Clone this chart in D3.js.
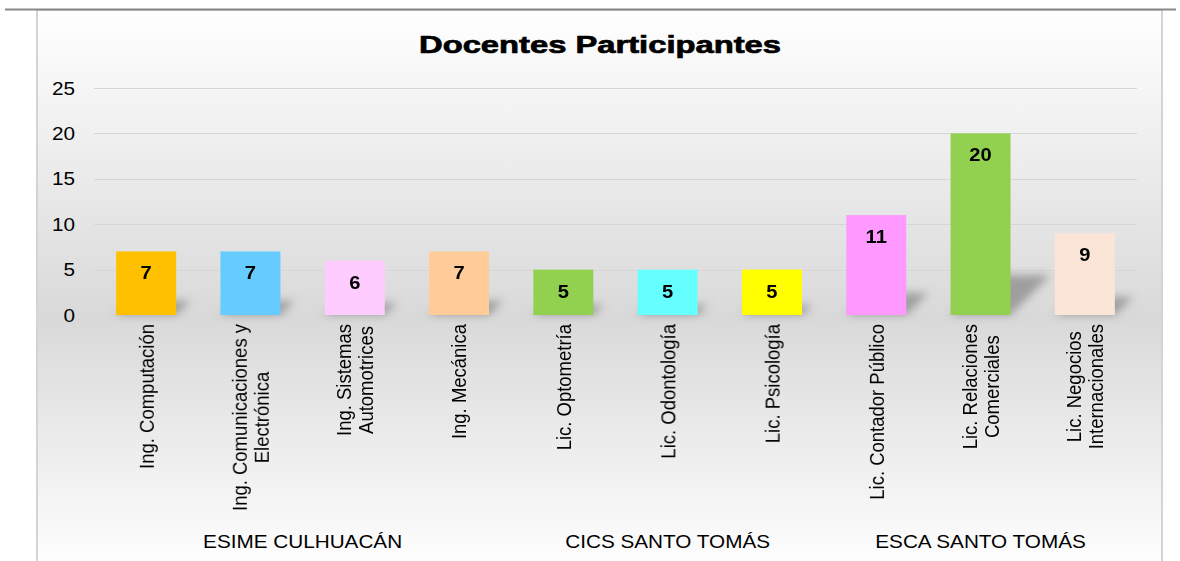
<!DOCTYPE html>
<html>
<head>
<meta charset="utf-8">
<script src="https://cdn.jsdelivr.net/npm/d3@7"></script>
<style>
  body { margin: 0; background: #fff; }
  text { font-family: "Liberation Sans", Arial, sans-serif; fill: #000; }
</style>
</head>
<body>
<svg id="chart" width="1180" height="561"></svg>
<script>
// datos del gráfico
const carreras = ["Ing. Computación", "Ing. Comunicaciones y\nElectrónica", "Ing. Sistemas\nAutomotrices",
  "Ing. Mecánica", "Lic. Optometría", "Lic. Odontología", "Lic. Psicología",
  "Lic. Contador Público", "Lic. Relaciones\nComerciales", "Lic. Negocios\nInternacionales"];
const docentes = [7, 7, 6, 7, 5, 5, 5, 11, 20, 9];
const colores = ["#FFC000", "#66CCFF", "#FFCCFF", "#FFCC99", "#92D050", "#66FFFF", "#FFFF00",
  "#FF99FF", "#92D050", "#FBE5D6"];
const escuelas = ["ESIME CULHUACÁN", "CICS SANTO TOMÁS", "ESCA SANTO TOMÁS"];
const carrerasPorEscuela = [4, 3, 3];
const yTicks = [0, 5, 10, 15, 20, 25];

const svg = d3.select("#chart");
const sx = 1.12; // el texto horizontal se ve algo ensanchado

const defs = svg.append("defs");
const grad = defs.append("linearGradient").attr("id", "fondo")
  .attr("x1", 0).attr("y1", 0).attr("x2", 0).attr("y2", 1);
grad.append("stop").attr("offset", "0").attr("stop-color", "#ffffff");
grad.append("stop").attr("offset", "0.55").attr("stop-color", "#d9d9d9");
grad.append("stop").attr("offset", "1").attr("stop-color", "#ffffff");
defs.append("filter").attr("id", "blur").attr("x", "-50%").attr("y", "-50%")
  .attr("width", "200%").attr("height", "200%")
  .append("feGaussianBlur").attr("stdDeviation", 4);

// fondo del área del gráfico
svg.append("rect").attr("x", 37).attr("y", 10).attr("width", 1125).attr("height", 560)
  .attr("fill", "url(#fondo)").attr("stroke", "#d4d4d4").attr("stroke-width", 2);
svg.append("line").attr("x1", 5).attr("x2", 1176).attr("y1", 9.5).attr("y2", 9.5)
  .attr("stroke", "#888").attr("stroke-width", 2);

// título
svg.append("text")
  .attr("transform", "translate(600,53)")
  .attr("text-anchor", "middle")
  .style("font-size", "24px").style("font-weight", "bold")
  .attr("stroke", "#000").attr("stroke-width", 0.7)
  .attr("textLength", 362).attr("lengthAdjust", "spacingAndGlyphs")
  .text("Docentes Participantes");

const x = d3.scaleBand().domain(d3.range(carreras.length)).range([94, 1137]).paddingInner(0.425).paddingOuter(0.2125);
const y = d3.scaleLinear().domain([0, 25]).range([315, 88]);

// líneas de cuadrícula
svg.append("g").selectAll("line").data(yTicks).join("line")
  .attr("x1", 94).attr("x2", 1137)
  .attr("y1", d => Math.round(y(d)) + 0.5).attr("y2", d => Math.round(y(d)) + 0.5)
  .attr("stroke", "#d6d6d6");

svg.append("g").selectAll("text").data(yTicks).join("text")
  .attr("transform", d => `translate(75,${y(d) + 6.5}) scale(${sx},1)`)
  .attr("text-anchor", "end")
  .style("font-size", "18.5px")
  .text(d => d);

// sombras de las barras
svg.append("g").attr("filter", "url(#blur)").selectAll("polygon").data(docentes).join("polygon")
  .attr("points", (d, i) => {
    const x0 = x(i), x1 = x(i) + x.bandwidth(), b = y(0);
    const sh = (y(0) - y(d)) * 0.22;
    return [[x0, b], [x1, b], [x1 + sh, b - sh], [x0 + sh, b - sh]].map(p => p.join(",")).join(" ");
  })
  .attr("fill", "#8a8a8a").attr("opacity", 0.75);

// barras
svg.append("g").selectAll("rect").data(docentes).join("rect")
  .attr("x", (d, i) => x(i)).attr("width", x.bandwidth())
  .attr("y", d => y(d)).attr("height", d => y(0) - y(d))
  .attr("fill", (d, i) => colores[i]);

// etiquetas de valor
svg.append("g").selectAll("text").data(docentes).join("text")
  .attr("transform", (d, i) => `translate(${x(i) + x.bandwidth() / 2},${y(d) + 28}) scale(${sx},1)`)
  .attr("text-anchor", "middle")
  .style("font-size", "18px").style("font-weight", "bold")
  .text(d => d);

// etiquetas de categoría (giradas)
const lh = 22 / sx;
carreras.forEach((c, i) => {
  const lineas = c.split("\n");
  const g = svg.append("g")
    .attr("transform", `translate(${x(i) + x.bandwidth() / 2},324) scale(${sx},1) rotate(-90)`);
  const ts = lineas.map((l, j) => g.append("text")
    .attr("text-anchor", "middle")
    .attr("y", (j - (lineas.length - 1) / 2) * lh + 6.5)
    .style("font-size", "18.5px")
    .text(l));
  const maxLen = d3.max(ts, t => t.node().getComputedTextLength());
  ts.forEach(t => t.attr("x", -maxLen / 2));
});

// etiquetas de escuela
let acum = 0;
escuelas.forEach((e, k) => {
  const i0 = acum, i1 = acum + carrerasPorEscuela[k] - 1;
  acum += carrerasPorEscuela[k];
  const step = x.step();
  const cx = (x(i0) + x(i1) + x.bandwidth()) / 2;
  svg.append("text")
    .attr("transform", `translate(${cx},548) scale(${sx},1)`)
    .attr("text-anchor", "middle")
    .style("font-size", "18.5px")
    .text(e);
});
</script>
</body>
</html>
